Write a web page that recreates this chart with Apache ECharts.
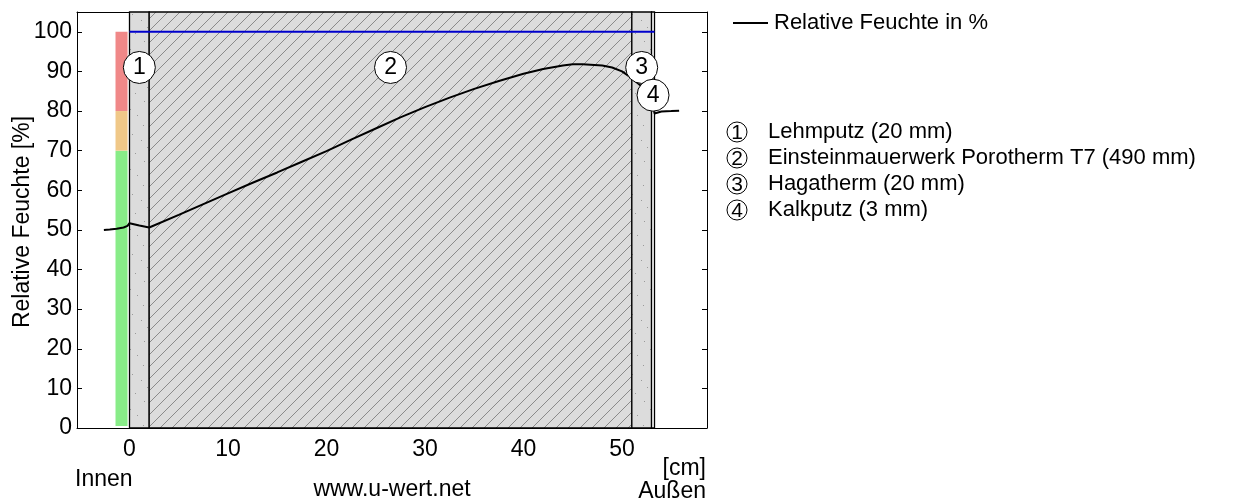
<!DOCTYPE html>
<html>
<head>
<meta charset="utf-8">
<script src="https://cdn.jsdelivr.net/npm/echarts@6/dist/echarts.min.js"></script>
<style>
html,body{margin:0;padding:0;background:#fff;}
#c{width:1245px;height:504px;}
</style>
</head>
<body>
<div id="c"></div>
<script>
// ---------- data ----------
const layerNames = ['Lehmputz (20 mm)', 'Einsteinmauerwerk Porotherm T7 (490 mm)', 'Hagatherm (20 mm)', 'Kalkputz (3 mm)'];
const layerBounds = [0, 2, 51, 53, 53.3];          // cm
const layerKinds = ['dots', 'hatch', 'dots', 'plain'];
const labelX = [1, 26.5, 52, 53.15];
const labelY = [91, 91, 91, 84];
const rhX = [-2.6, -2, -1.3, -0.6, -0.2, 0, 1, 2, 5, 7.5, 10, 12.5, 15, 17.5, 20, 22.5, 25, 27.5, 30, 32.5, 35, 37.5, 40, 42, 44, 45, 46, 48, 49, 50, 51, 52, 53, 53.3, 53.5, 54, 55, 55.8];
const rhY = [50.0, 50.1, 50.3, 50.6, 51.0, 51.7, 51.1, 50.6, 53.8, 56.5, 59.2, 61.9, 64.5, 67.2, 69.9, 72.8, 75.6, 78.4, 81.0, 83.4, 85.6, 87.6, 89.4, 90.6, 91.5, 91.8, 91.8, 91.5, 91.0, 90.0, 88.3, 86.2, 84.3, 79.4, 79.7, 79.9, 80.0, 80.1];
const saturation = [[0, 100], [53.3, 100]];
const bandX = [-1.42, -0.2];
const bandLimits = [0.5, 70, 80, 100];
const bandColors = ['#88ec88', '#f0c888', '#f08888'];
const xTicks = [0, 10, 20, 30, 40, 50];
const yTicks = [0, 10, 20, 30, 40, 50, 60, 70, 80, 90, 100];
const xRange = [-5.33, 58.63];
const yRange = [0, 105];
const seriesName = 'Relative Feuchte in %';

// ---------- patterns ----------
function hatchPattern() {
  const s = 12, c = document.createElement('canvas');
  c.width = s; c.height = s;
  const g = c.getContext('2d');
  g.fillStyle = '#dcdcdc'; g.fillRect(0, 0, s, s);
  g.strokeStyle = '#8a8a8a'; g.lineWidth = 1;
  g.beginPath();
  g.moveTo(-1, s + 1); g.lineTo(s + 1, -1);
  g.moveTo(-1, 1); g.lineTo(1, -1);
  g.moveTo(s - 1, s + 1); g.lineTo(s + 1, s - 1);
  g.stroke();
  return { image: c, repeat: 'repeat' };
}
function dotPattern() {
  const w = 20, h = 60, c = document.createElement('canvas');
  c.width = w; c.height = h;
  const g = c.getContext('2d');
  g.fillStyle = '#dcdcdc'; g.fillRect(0, 0, w, h);
  g.fillStyle = '#9a9a9a';
  const pts = [[3, 5], [12, 14], [7, 27], [15, 33], [4, 41], [10, 49], [17, 55], [1, 20]];
  pts.forEach(p => g.fillRect(p[0], p[1], 1, 1));
  return { image: c, repeat: 'repeat' };
}
const fills = { hatch: hatchPattern(), dots: dotPattern(), plain: '#ffffff' };

const layerData = layerNames.map((n, i) => [layerBounds[i], layerBounds[i + 1], i]);
const bandData = bandColors.map((col, i) => [bandLimits[i], bandLimits[i + 1], i]);
const rhData = rhX.map((x, i) => [x, rhY[i]]);
const circleData = labelX.map((x, i) => [x, labelY[i], i + 1]);

const chart = echarts.init(document.getElementById('c'), null, { renderer: 'canvas' });
const FONT = 'Liberation Sans, Arial, sans-serif';
const FS = 23;
const LFS = 22;

const xAxisBase = {
  type: 'value', min: xRange[0], max: xRange[1],
  axisLine: { show: true, onZero: false, lineStyle: { color: '#000', width: 1 } },
  axisTick: { show: true, inside: true, length: 5, customValues: xTicks, lineStyle: { color: '#000' } },
  splitLine: { show: false }
};
const yAxisBase = {
  type: 'value', min: yRange[0], max: yRange[1],
  axisLine: { show: true, onZero: false, lineStyle: { color: '#000', width: 1 } },
  axisTick: { show: true, inside: true, length: 5, customValues: yTicks, lineStyle: { color: '#000' } },
  splitLine: { show: false }
};

const legendItems = [
  { type: 'line', shape: { x1: 733, y1: 23, x2: 768, y2: 23 }, style: { stroke: '#000', lineWidth: 2 } },
  { type: 'text', x: 774, y: 23, style: { text: seriesName, font: LFS + 'px ' + FONT, fill: '#000', align: 'left', verticalAlign: 'middle' } }
];
layerNames.forEach((n, i) => {
  const y = 132 + i * 26;
  legendItems.push({ type: 'circle', shape: { cx: 737, cy: y, r: 10 }, style: { fill: '#fff', stroke: '#000', lineWidth: 1 } });
  legendItems.push({ type: 'text', x: 737, y: y + 1, style: { text: String(i + 1), font: '21px ' + FONT, fill: '#000', align: 'center', verticalAlign: 'middle' } });
  legendItems.push({ type: 'text', x: 768, y: y, style: { text: n, font: LFS + 'px ' + FONT, fill: '#000', align: 'left', verticalAlign: 'middle' } });
});

chart.setOption({
  animation: false,
  backgroundColor: '#fff',
  textStyle: { fontFamily: FONT },
  grid: { left: 77, right: 538, top: 12, bottom: 76 },
  xAxis: [
    Object.assign({}, xAxisBase, {
      position: 'bottom',
      axisLabel: { show: true, customValues: xTicks, fontSize: FS, color: '#000', margin: 10, fontFamily: FONT }
    }),
    Object.assign({}, xAxisBase, { position: 'top', axisLabel: { show: false } })
  ],
  yAxis: [
    Object.assign({}, yAxisBase, {
      position: 'left',
      axisLabel: { show: true, customValues: yTicks, fontSize: FS, color: '#000', margin: 5, fontFamily: FONT }
    }),
    Object.assign({}, yAxisBase, { position: 'right', axisLabel: { show: false } })
  ],
  graphic: [
    { type: 'text', x: 23, y: 222, rotation: Math.PI / 2, style: { text: 'Relative Feuchte [%]', font: FS + 'px ' + FONT, fill: '#000', align: 'center', verticalAlign: 'middle' } },
    { type: 'text', x: 75, y: 480, style: { text: 'Innen', font: FS + 'px ' + FONT, fill: '#000', align: 'left', verticalAlign: 'middle' } },
    { type: 'text', x: 392, y: 490, style: { text: 'www.u-wert.net', font: FS + 'px ' + FONT, fill: '#000', align: 'center', verticalAlign: 'middle' } },
    { type: 'text', x: 706, y: 469, style: { text: '[cm]', font: FS + 'px ' + FONT, fill: '#000', align: 'right', verticalAlign: 'middle' } },
    { type: 'text', x: 706, y: 492, style: { text: 'Außen', font: FS + 'px ' + FONT, fill: '#000', align: 'right', verticalAlign: 'middle' } }
  ].concat(legendItems),
  series: [
    {
      name: 'layers', type: 'custom', z: 1, silent: true,
      data: layerData,
      renderItem: function (params, api) {
        const p0 = api.coord([api.value(0), yRange[1]]);
        const p1 = api.coord([api.value(1), yRange[0]]);
        const kind = layerKinds[api.value(2)];
        return {
          type: 'rect',
          shape: { x: p0[0], y: p0[1], width: p1[0] - p0[0], height: p1[1] - p0[1] },
          style: { fill: fills[kind], stroke: '#000', lineWidth: 1.3 }
        };
      }
    },
    {
      name: 'band', type: 'custom', z: 1, silent: true,
      data: bandData,
      renderItem: function (params, api) {
        const p0 = api.coord([bandX[0], api.value(1)]);
        const p1 = api.coord([bandX[1], api.value(0)]);
        return {
          type: 'rect',
          shape: { x: p0[0], y: p0[1], width: p1[0] - p0[0], height: p1[1] - p0[1] },
          style: { fill: bandColors[api.value(2)] }
        };
      }
    },
    {
      name: 'Sättigung', type: 'line', z: 3, data: saturation, symbol: 'none',
      lineStyle: { color: '#0000cc', width: 2 }, silent: true
    },
    {
      name: seriesName, type: 'line', z: 4, data: rhData, symbol: 'none',
      color: '#000', lineStyle: { color: '#000', width: 2 }, silent: true
    },
    {
      name: 'labels', type: 'scatter', z: 5, data: circleData, symbol: 'circle', symbolSize: 32,
      itemStyle: { color: '#fff', borderColor: '#000', borderWidth: 1, opacity: 1 },
      label: { show: true, position: 'inside', formatter: p => String(p.value[2]), fontSize: FS, color: '#000', fontFamily: FONT },
      silent: true
    }
  ]
});
</script>
</body>
</html>
